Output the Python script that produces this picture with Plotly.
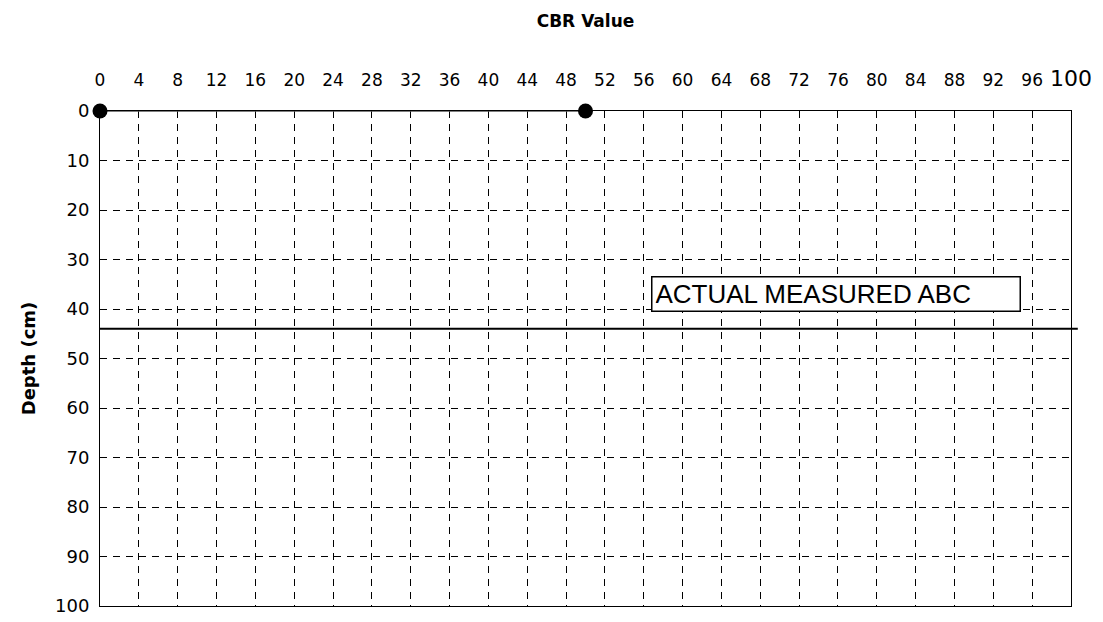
import plotly.graph_objects as go

# Data
cbr_values = [0, 50]
depths = [0, 0]
abc_depth = 44
label_text = "ACTUAL MEASURED ABC"
label_x = 56.7
label_y = 37
x_ticks = list(range(0, 101, 4))
y_ticks = list(range(0, 101, 10))

x_ticktext = [str(v) for v in x_ticks[:-1]] + ["<span style='font-size:22px'>100</span>"]

FAM = "DejaVu Sans, Liberation Sans, Arial"
ARIAL = "Liberation Sans, Arial"

fig = go.Figure()

fig.add_trace(go.Scatter(
    x=cbr_values, y=depths, mode="markers+lines",
    marker=dict(color="black", size=15),
    line=dict(color="#555555", width=1.5),
    cliponaxis=False, showlegend=False,
))

fig.add_shape(type="line", xref="x domain", yref="y",
              x0=0, x1=1.007, y0=abc_depth, y1=abc_depth,
              line=dict(color="black", width=2))

fig.add_annotation(x=label_x, y=label_y, xref="x", yref="y",
                   text=label_text, showarrow=False, xanchor="left", yanchor="middle",
                   font=dict(family=ARIAL, size=26, color="black"),
                   bordercolor="black", borderwidth=1.5, borderpad=3,
                   bgcolor="white", width=361, height=27, align="left")

fig.update_xaxes(
    side="top", range=[0, 100], tickmode="array", tickvals=x_ticks, ticktext=x_ticktext,
    showgrid=True, gridcolor="black", gridwidth=1, griddash="7px,6px",
    showline=True, linecolor="black", linewidth=1, mirror=True,
    ticks="", zeroline=False, tickfont=dict(family=FAM, size=17, color="black"),
    ticklabelstandoff=17,
    title=dict(text="<b>CBR Value</b>", font=dict(family=FAM, size=17, color="black"), standoff=34),
)
fig.update_yaxes(
    range=[100, 0], tickmode="array", tickvals=y_ticks,
    showgrid=True, gridcolor="black", gridwidth=1, griddash="7px,6px",
    showline=True, linecolor="black", linewidth=1, mirror=True,
    ticks="", zeroline=False, tickfont=dict(family=FAM, size=18, color="black"),
    ticklabelstandoff=6,
    title=dict(text="<b>Depth (cm)</b>", font=dict(family=FAM, size=18, color="black"), standoff=14),
)

fig.update_layout(
    width=1103, height=622,
    margin=dict(l=92, r=40, t=98, b=24),
    paper_bgcolor="white", plot_bgcolor="white",
)

fig.write_html("out.html")
